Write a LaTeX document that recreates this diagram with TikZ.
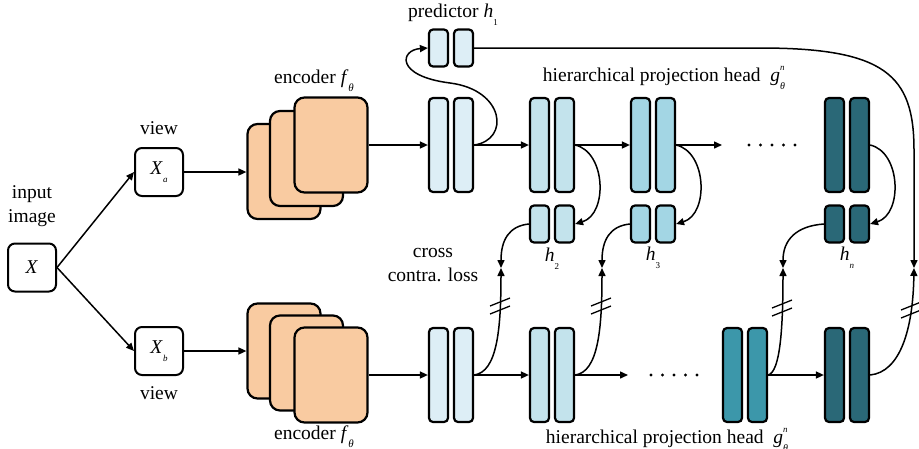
\documentclass[tikz,border=0pt]{standalone}
\usepackage{fontspec}
\setmainfont{Liberation Serif}
\usetikzlibrary{arrows.meta}

\definecolor{peach}{HTML}{F9CBA1}
\definecolor{cz}{HTML}{DDEEF6}
\definecolor{ca}{HTML}{C3E3EC}
\definecolor{cb}{HTML}{A3D6E4}
\definecolor{cm}{HTML}{3C97AA}
\definecolor{cn}{HTML}{2A6877}

% lowered small index
\newcommand\dn[2][9]{\raisebox{-0.9ex}{\fontsize{#1}{#1}\selectfont #2}}
% pair of bars: name, left edge, centre y, fill, style
\newcommand\pairbars[5]{%
  \node[#5, fill=#4] (#1a) at ({#2+10.5},#3) {};
  \node[#5, fill=#4] (#1b) at ({#2+35.5},#3) {};}
% double cut mark on a connector
\newcommand\cutmark[2]{%
  \draw[cut] ({#1-10},{#2+0}) -- ({#1+10},{#2-8});
  \draw[cut] ({#1-10},{#2+8}) -- ({#1+10},{#2+0});}

\begin{document}
\begin{tikzpicture}[x=1pt,y=-1pt,
  >={Triangle[length=8pt,width=7pt]},
  bar/.style={draw, line width=2.2pt, rounded corners=4pt, minimum width=19pt, minimum height=94pt, inner sep=0pt},
  hbox/.style={draw, line width=2.2pt, rounded corners=4pt, minimum width=19pt, minimum height=37pt, inner sep=0pt},
  card/.style={draw, line width=2.2pt, fill=peach, rounded corners=10pt, minimum width=73pt, minimum height=95pt, inner sep=0pt},
  ibox/.style={draw, line width=2pt, rounded corners=7pt, minimum width=48pt, minimum height=48pt, inner sep=0pt, font=\fontsize{19.5}{22}\selectfont},
  lbl/.style={font=\fontsize{19.5}{24}\selectfont, inner sep=0pt},
  link/.style={->, line width=1.5pt},
  cut/.style={line width=1.3pt}]

\useasboundingbox (0,0) rectangle (919,448);

% inputs and views
\node[ibox] (X) at (32,267.5) {\textit{X}};
\node[ibox] (Xa) at (159,172) {\textit{X}\dn{\textit{a}}};
\node[ibox] (Xb) at (159,351) {\textit{X}\dn{\textit{b}}};
\node[lbl, align=center] (inlbl) at (32,206) {input\\image};
\node[lbl] (va) at (159,128) {view};
\node[lbl] (vb) at (159,393) {view};

% encoders (stacked cards)
\node[card] (ea1) at (284,171.5) {};
\node[card] (ea2) at (306.5,158.5) {};
\node[card] (ea3) at (331,145) {};
\node[card] (eb1) at (284,351) {};
\node[card] (eb2) at (306.5,363) {};
\node[card] (eb3) at (331,375) {};
\node[lbl] (enca) at (314,81) {encoder \textit{f}\dn[11]{\textit{θ}}};
\node[lbl] (encb) at (314,437) {encoder \textit{f}\dn[11]{\textit{θ}}};

% projection heads and predictors
\pairbars{p0}{428}{145}{cz}{bar}
\pairbars{p1}{529}{145}{ca}{bar}
\pairbars{p2}{630}{145}{cb}{bar}
\pairbars{pN}{824}{145}{cn}{bar}
\pairbars{h1}{428}{48}{cz}{hbox}
\pairbars{h2}{529}{224}{ca}{hbox}
\pairbars{h3}{630}{224}{cb}{hbox}
\pairbars{hN}{824}{224}{cn}{hbox}
\pairbars{q0}{428}{375}{cz}{bar}
\pairbars{q1}{529}{375}{ca}{bar}
\pairbars{q2}{722}{375}{cm}{bar}
\pairbars{q3}{824}{375}{cn}{bar}

% labels
\node[lbl] (predlbl) at (453,15) {predictor \textit{h}\dn{1}};
\node[lbl] (hpa) at (664,78) {hierarchical projection head\ \ \textit{g}\rlap{\raisebox{1.3ex}{\fontsize{9}{9}\selectfont\textit{n}}}\dn[10]{\textit{θ}}};
\node[lbl] (hpb) at (667,440) {hierarchical projection head\ \ \textit{g}\rlap{\raisebox{1.3ex}{\fontsize{9}{9}\selectfont\textit{n}}}\dn[10]{\textit{θ}}};
\node[lbl, align=center] (loss) at (433,265) {cross\\contra. loss};
\node[lbl] (l2) at (552,259) {\textit{h}\dn{2}};
\node[lbl] (l3) at (653,258) {\textit{h}\dn{3}};
\node[lbl] (lN) at (847,258) {\textit{h}\dn{\textit{n}}};

% free ends and meeting points
\coordinate (t1) at (722,145);
\coordinate (t2) at (628,375);
\coordinate (m2) at (501,268);
\coordinate (m3) at (602,268);
\coordinate (mN) at (783,268);
\coordinate (mP) at (914,268);

% input to views to encoders
\draw[link] (X.east) -- (Xa.west);
\draw[link] (X.east) -- (Xb.west);
\draw[link] (Xa.east) -- (ea1.west |- Xa.east);
\draw[link] (Xb.east) -- (eb1.west |- Xb.east);
\draw[link] (ea3.east) -- (p0a.west);
\draw[link] (eb3.east) -- (q0a.west);

% top chain
\draw[link] (p0b.east) -- (p1a.west);
\draw[link] (p1b.east) -- (p2a.west);
\draw[link] (p2b.east) -- (t1);
\foreach \i in {0,...,4} \fill ({749+11.5*\i},145) circle (1.7);

% bottom chain
\draw[link] (q0b.east) -- (q1a.west);
\draw[link] (q1b.east) -- (t2);
\foreach \i in {0,...,4} \fill ({651+11.5*\i},375) circle (1.7);
\draw[link] (q2b.east) -- (q3a.west);

% predictor branch
\draw[link] (p0b.east) .. controls (510,140) and (505,90) .. (450,83)
                       .. controls (395,76) and (400,50) .. (h1a.west);
\draw[link] (h1b.east) -- (760,48) .. controls (885,48) and (914,75) .. (914,150) -- (mP);

% level heads
\draw[link] (p1b.east) .. controls (606,152) and (608,214) .. (h2b.east);
\draw[link] (p2b.east) .. controls (707,152) and (709,214) .. (h3b.east);
\draw[link] (pNb.east) .. controls (901,152) and (903,214) .. (hNb.east);
\draw[link] (h2a.west) .. controls (509,226) and (501,240) .. (m2);
\draw[link] (h3a.west) .. controls (610,226) and (602,240) .. (m3);
\draw[link] (hNa.west) .. controls (796,226) and (783,240) .. (mN);

% stop-gradient branches from the second view
\draw[link] (q0b.east) .. controls (497,372) and (501,330) .. (m2);
\draw[link] (q1b.east) .. controls (598,372) and (602,330) .. (m3);
\draw[link] (q2b.east) .. controls (780,372) and (783,330) .. (mN);
\draw[link] (q3b.east) .. controls (900,372) and (913,330) .. (mP);
\cutmark{500}{306}
\cutmark{601}{306}
\cutmark{782}{308}
\cutmark{911}{310}

\end{tikzpicture}
\end{document}
